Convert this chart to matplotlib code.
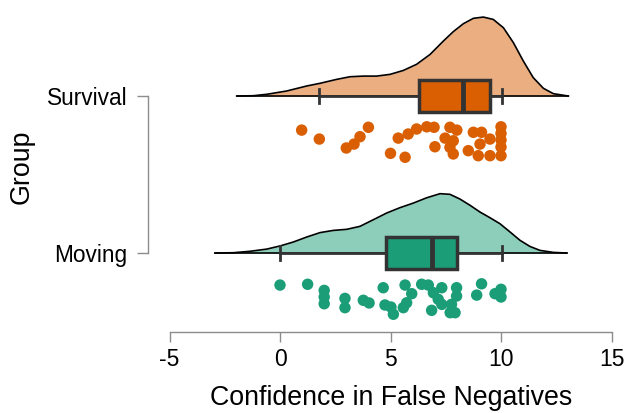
import numpy as np
import matplotlib
matplotlib.use("Agg")
import matplotlib.pyplot as plt

plt.rcParams['font.family'] = ['Liberation Sans', 'DejaVu Sans']
plt.rcParams['axes.unicode_minus'] = False

# groups and their positions on the y axis
groups = ["Moving", "Survival"]
ypos = [1, 2]
dark = ["#1B9E77", "#D95F02"]

# density curves (x value, height in y units)
surv_dx = [-1.96, -1.21, -0.60, 0.30, 1.21, 1.81, 2.56, 3.17, 3.77, 4.37, 4.98, 5.58,
           6.18, 6.79, 7.39, 7.84, 8.30, 8.75, 9.20, 9.65, 10.11, 10.56, 11.01, 11.46,
           11.92, 12.37, 13.05]
surv_dh = [0.0, 0.002, 0.011, 0.032, 0.064, 0.081, 0.106, 0.123, 0.127, 0.127, 0.138, 0.163,
           0.202, 0.265, 0.350, 0.410, 0.461, 0.495, 0.503, 0.488, 0.435, 0.340, 0.223, 0.117,
           0.049, 0.015, 0.0]
mov_dx = [-2.94, -2.11, -1.36, -0.60, 0.00, 0.60, 1.21, 1.81, 2.41, 3.02, 3.62, 4.22, 4.83,
          5.43, 6.03, 6.64, 7.24, 7.69, 8.14, 8.60, 9.05, 9.50, 9.95, 10.41, 10.86, 11.31,
          11.76, 12.37, 12.97]
mov_dh = [0.0, 0.002, 0.011, 0.025, 0.045, 0.070, 0.102, 0.130, 0.144, 0.151, 0.170, 0.212,
          0.255, 0.289, 0.318, 0.352, 0.378, 0.374, 0.344, 0.304, 0.261, 0.225, 0.187, 0.134,
          0.081, 0.042, 0.017, 0.004, 0.0]

# box summaries
q1 = [4.78, 6.3]
med = [6.86, 8.3]
q3 = [8.03, 9.5]
whis_lo = [0.0, 1.78]
whis_hi = [10.03, 10.05]

# raw points (value, jittered y)
surv_x = [0.98, 1.78, 4.0, 3.62, 3.35, 3.0, 5.35, 6.18, 5.8, 6.64, 6.97, 7.01, 5.0, 5.66,
          7.69, 8.0, 7.47, 7.84, 7.69, 7.84, 8.52, 8.75, 9.12, 9.05, 8.97, 9.5, 10.0, 10.0,
          10.0, 10.0, 10.0, 9.5]
surv_y = [1.783, 1.726, 1.801, 1.741, 1.694, 1.669, 1.732, 1.790, 1.758, 1.804, 1.801, 1.677,
          1.635, 1.610, 1.801, 1.783, 1.732, 1.715, 1.673, 1.631, 1.652, 1.769, 1.769, 1.694,
          1.620, 1.620, 1.804, 1.762, 1.720, 1.675, 1.620, 1.726]
mov_x = [0.0, 1.25, 2.0, 2.0, 2.0, 2.94, 2.94, 3.77, 4.03, 4.67, 4.75, 5.02, 5.13, 5.66,
         5.96, 5.73, 5.58, 6.41, 6.71, 6.94, 7.32, 7.16, 7.32, 6.86, 7.99, 7.99, 7.76, 7.92,
         7.7, 9.12, 8.9, 9.73, 10.0, 10.0]
mov_y = [0.796, 0.801, 0.762, 0.720, 0.677, 0.711, 0.652, 0.699, 0.682, 0.779, 0.669, 0.656,
         0.610, 0.796, 0.741, 0.683, 0.652, 0.801, 0.796, 0.747, 0.779, 0.705, 0.673, 0.635,
         0.779, 0.726, 0.673, 0.620, 0.620, 0.804, 0.732, 0.741, 0.769, 0.720]

xticks = [-5, 0, 5, 10, 15]

fig = plt.figure(figsize=(6.27, 4.13), dpi=100)
ax = fig.add_axes([148 / 627, (413 - 332) / 413, 474 / 627, 330 / 413])

dens = [(mov_dx, mov_dh), (surv_dx, surv_dh)]
pts = [(mov_x, mov_y), (surv_x, surv_y)]
for i in range(2):
    dx, dh = np.array(dens[i][0]), np.array(dens[i][1])
    base = ypos[i]
    ax.fill_between(dx, base, base + dh, color=dark[i], alpha=0.5, lw=0, zorder=1)
    ax.plot(dx, base + dh, color="black", lw=1.2, zorder=2)
    ax.plot([dx[0], dx[-1]], [base, base], color="black", lw=1.2, zorder=2)

    stats = [dict(med=med[i], q1=q1[i], q3=q3[i], whislo=whis_lo[i], whishi=whis_hi[i], fliers=[])]
    ax.bxp(stats, positions=[base], widths=0.2, capwidths=0.09, orientation="horizontal",
           patch_artist=True, manage_ticks=False, zorder=3,
           boxprops=dict(facecolor=dark[i], edgecolor="#333333", lw=2.5),
           medianprops=dict(color="#333333", lw=3.5),
           whiskerprops=dict(color="#333333", lw=2),
           capprops=dict(color="#333333", lw=2))

    ax.scatter(pts[i][0], pts[i][1], s=68, color=dark[i], edgecolors="none", zorder=4)

ax.set_xlim(-5.973, 15.475)
ax.set_ylim(0.497, 2.599)
ax.set_xticks(xticks)
ax.set_yticks(ypos)
ax.set_yticklabels(groups)

for s in ["top", "right"]:
    ax.spines[s].set_visible(False)
ax.spines["left"].set_bounds(1, 2)
ax.spines["bottom"].set_bounds(-5, 15)
for s in ["left", "bottom"]:
    ax.spines[s].set_color("#8c8c8c")
    ax.spines[s].set_linewidth(1)

ax.tick_params(axis="x", length=7.2, width=1, color="#8c8c8c", pad=4, labelsize=16.5)
ax.tick_params(axis="y", length=8, width=1, color="#8c8c8c", pad=7, labelsize=16.3)

ax.set_xlabel("Confidence in False Negatives", fontsize=19.3)
ax.set_ylabel("Group", fontsize=19.3)
ax.xaxis.set_label_coords(0.513, -0.160)
ax.yaxis.set_label_coords(-0.266, 0.5)
ax.yaxis.label.set_va("center")

fig.savefig("out.png", dpi=100)
